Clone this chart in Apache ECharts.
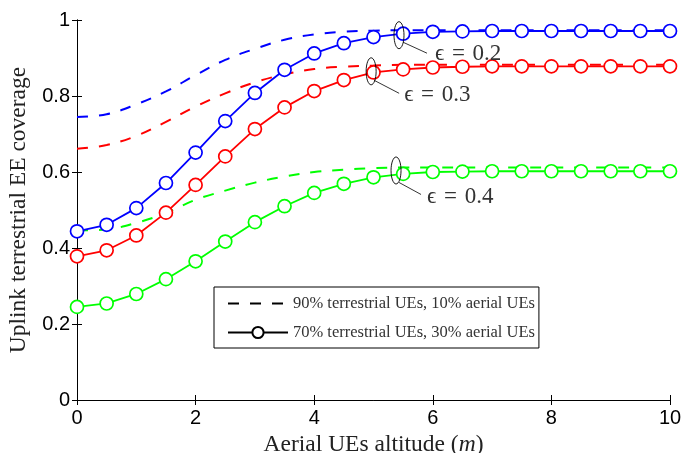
<!DOCTYPE html>
<html>
<head>
<meta charset="utf-8">
<script src="https://cdn.jsdelivr.net/npm/echarts@6/dist/echarts.min.js"></script>
<style>
  html, body { margin: 0; padding: 0; background: #fff; }
  #main { width: 694px; height: 453px; }
</style>
</head>
<body>
<div id="main"></div>
<script>
// altitude of aerial UEs (m)
var altitude = [0, 0.5, 1, 1.5, 2, 2.5, 3, 3.5, 4, 4.5, 5, 5.5, 6, 6.5, 7, 7.5, 8, 8.5, 9, 9.5, 10];

// 90% terrestrial / 10% aerial (dashed)
var dash02 = [0.745, 0.752, 0.778, 0.812, 0.855, 0.895, 0.924, 0.948, 0.962, 0.969, 0.972, 0.973, 0.973, 0.973, 0.973, 0.973, 0.973, 0.973, 0.973, 0.973, 0.973];
var dash03 = [0.661, 0.671, 0.695, 0.732, 0.772, 0.807, 0.836, 0.857, 0.871, 0.877, 0.880, 0.882, 0.882, 0.882, 0.882, 0.882, 0.882, 0.882, 0.882, 0.882, 0.882];
var dash04 = [0.446, 0.449, 0.466, 0.492, 0.527, 0.551, 0.572, 0.588, 0.600, 0.606, 0.610, 0.612, 0.612, 0.612, 0.612, 0.612, 0.612, 0.612, 0.612, 0.612, 0.612];

// 70% terrestrial / 30% aerial (solid + circles)
var solid02 = [0.444, 0.461, 0.505, 0.571, 0.651, 0.734, 0.808, 0.869, 0.912, 0.939, 0.955, 0.964, 0.969, 0.970, 0.971, 0.971, 0.971, 0.971, 0.971, 0.971, 0.971];
var solid03 = [0.378, 0.394, 0.433, 0.493, 0.566, 0.641, 0.713, 0.770, 0.813, 0.842, 0.862, 0.870, 0.875, 0.877, 0.878, 0.878, 0.878, 0.878, 0.878, 0.878, 0.878];
var solid04 = [0.245, 0.254, 0.279, 0.318, 0.365, 0.417, 0.468, 0.510, 0.545, 0.569, 0.586, 0.595, 0.600, 0.601, 0.602, 0.602, 0.602, 0.602, 0.602, 0.602, 0.602];

var legendNames = ['90% terrestrial UEs, 10% aerial UEs', '70% terrestrial UEs, 30% aerial UEs'];
var epsLabels = ['\u03f5\u2004=\u20040.2', '\u03f5\u2004=\u20040.3', '\u03f5\u2004=\u20040.4'];
var epsColors = ['#0000ff', '#ff0000', '#00ff00'];

function pairs(ys) {
  return altitude.map(function (x, i) { return [x, ys[i]]; });
}

function dashed(ys, color) {
  return {
    type: 'line',
    data: pairs(ys),
    smooth: 0.4,
    symbol: 'none',
    color: color,
    lineStyle: { color: color, width: 2, type: [11, 11] },
    z: 2
  };
}

function solid(ys, color) {
  return {
    type: 'line',
    data: pairs(ys),
    symbol: 'circle',
    symbolSize: 13,
    color: color,
    lineStyle: { color: color, width: 1.8 },
    itemStyle: { color: '#fff', borderColor: color, borderWidth: 1.7 },
    z: 3
  };
}

var chart = echarts.init(document.getElementById('main'));

var tickFont = { color: '#000', fontSize: 20, fontFamily: 'Liberation Sans, Arial, sans-serif' };
var nameFont = { color: '#222', fontSize: 23.5, fontFamily: 'Liberation Serif, Times New Roman, serif' };

var option = {
  animation: false,
  backgroundColor: '#fff',
  grid: { left: 77, right: 24, top: 20, bottom: 53, outerBoundsMode: 'none' },
  legend: {
    data: [
      { name: legendNames[0], itemStyle: { opacity: 0 } },
      { name: legendNames[1] }
    ],
    orient: 'vertical',
    left: 214,
    top: 287,
    itemWidth: 60,
    itemHeight: 14,
    itemGap: 12,
    padding: [8, 4, 7, 13],
    borderColor: '#000',
    borderWidth: 1,
    backgroundColor: '#fff',
    textStyle: { color: '#333', fontSize: 16.5, fontFamily: 'Liberation Serif, Times New Roman, serif' }
  },
  xAxis: [{
    type: 'value', min: 0, max: 10, interval: 2,
    name: 'Aerial UEs altitude ({i|m})',
    nameLocation: 'middle', nameGap: 29,
    nameTextStyle: Object.assign({}, nameFont, { rich: { i: Object.assign({}, nameFont, { fontStyle: 'italic' }) } }),
    axisLine: { lineStyle: { color: '#000', width: 1 } },
    axisTick: { inside: true, length: 5, lineStyle: { color: '#000' } },
    axisLabel: Object.assign({ margin: 8 }, tickFont),
    splitLine: { show: false }
  }, {
    type: 'value', min: 0, max: 10, interval: 2, position: 'top',
    axisLine: { lineStyle: { color: '#000', width: 1 } },
    axisTick: { inside: true, length: 5, lineStyle: { color: '#000' } },
    axisLabel: { show: false },
    splitLine: { show: false }
  }],
  yAxis: [{
    type: 'value', min: 0, max: 1, interval: 0.2,
    name: 'Uplink terrestrial EE coverage',
    nameLocation: 'middle', nameGap: 44,
    nameTextStyle: nameFont,
    axisLine: { show: true, lineStyle: { color: '#000', width: 1 } },
    axisTick: { show: true, inside: true, length: 5, lineStyle: { color: '#000' } },
    axisLabel: Object.assign({ margin: 7 }, tickFont),
    splitLine: { show: false }
  }, {
    type: 'value', min: 0, max: 1, interval: 0.2, position: 'right',
    axisLine: { show: true, lineStyle: { color: '#000', width: 1 } },
    axisTick: { show: true, inside: true, length: 5, lineStyle: { color: '#000' } },
    axisLabel: { show: false },
    splitLine: { show: false }
  }],
  series: [
    dashed(dash02, epsColors[0]),
    dashed(dash03, epsColors[1]),
    dashed(dash04, epsColors[2]),
    solid(solid02, epsColors[0]),
    solid(solid03, epsColors[1]),
    solid(solid04, epsColors[2]),
    {
      name: legendNames[0], type: 'line', data: [], symbol: 'none', color: '#000',
      lineStyle: { color: '#000', width: 2, type: [11, 11] }
    },
    {
      name: legendNames[1], type: 'line', data: [], symbol: 'circle', symbolSize: 13, color: '#000',
      lineStyle: { color: '#000', width: 1.6 },
      itemStyle: { color: '#fff', borderColor: '#000', borderWidth: 1.8 }
    }
  ]
};

chart.setOption(option);

// ellipse annotations: anchor in data coords, leader line and label offsets in px
var notes = [
  { at: [5.43, 0.96], line: [4, 7, 28, 18], text: [36, 19] },
  { at: [4.96, 0.865], line: [3, 9, 28, 22], text: [33, 24] },
  { at: [5.38, 0.604], line: [3, 12, 25, 24], text: [31, 26] }
];

var graphics = [];
notes.forEach(function (n, k) {
  var p = chart.convertToPixel({ gridIndex: 0 }, n.at);
  graphics.push({
    type: 'ellipse',
    shape: { cx: p[0], cy: p[1], rx: 5, ry: 13.5 },
    style: { fill: null, stroke: '#000', lineWidth: 0.9 },
    z: 10
  });
  graphics.push({
    type: 'line',
    shape: { x1: p[0] + n.line[0], y1: p[1] + n.line[1], x2: p[0] + n.line[2], y2: p[1] + n.line[3] },
    style: { stroke: '#000', lineWidth: 0.8 },
    z: 10
  });
  graphics.push({
    type: 'text',
    x: p[0] + n.text[0],
    y: p[1] + n.text[1],
    style: {
      text: epsLabels[k],
      fill: '#333',
      font: '23px "Liberation Serif", "DejaVu Serif", serif',
      verticalAlign: 'middle',
      align: 'left'
    },
    z: 10
  });
});

chart.setOption({ graphic: graphics });
</script>
</body>
</html>
